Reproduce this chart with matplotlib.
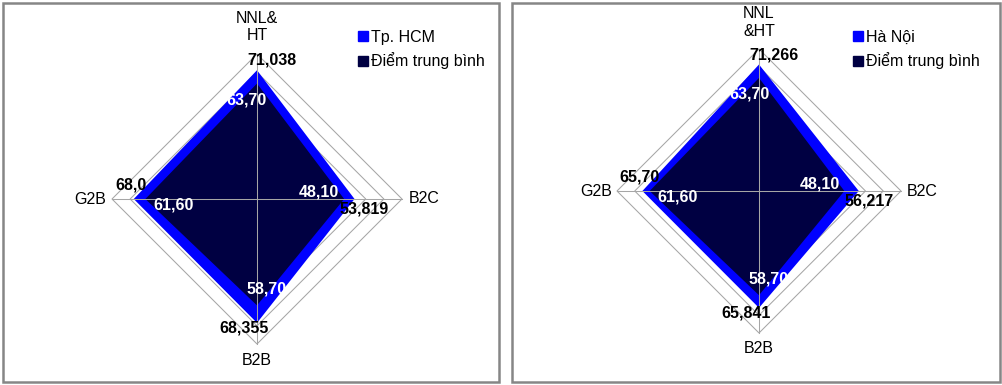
import numpy as np
import matplotlib
matplotlib.use("Agg")
import matplotlib.pyplot as plt
from matplotlib.lines import Line2D
from matplotlib.patches import Rectangle

# --- Datos ---
CATEGORIES_LEFT = ["NNL&\nHT", "B2C", "B2B", "G2B"]
CATEGORIES_RIGHT = ["NNL\n&HT", "B2C", "B2B", "G2B"]

HCM_VALUES = [71.038, 53.819, 68.355, 68.0]
HCM_LABELS = ["71,038", "53,819", "68,355", "68,0"]

HN_VALUES = [71.266, 56.217, 65.841, 65.70]
HN_LABELS = ["71,266", "56,217", "65,841", "65,70"]

AVG_VALUES = [63.70, 48.10, 58.70, 61.60]
AVG_LABELS = ["63,70", "48,10", "58,70", "61,60"]

GRID_VALUES = [10, 20, 30, 40, 50, 60, 70, 80]

# --- Estilo ---
W, H = 1003, 385
BLUE = "#0000FF"
NAVY = "#000042"
GRID = "#a6a6a6"
FONT = ["Liberation Sans", "DejaVu Sans"]
FS = 11.5

# offsets de etiquetas (px, y hacia abajo) por eje: NNL, B2C, B2B, G2B
CITY_OFFSETS = [(15, -10), (10, 10), (-13, 5), (-3, -14)]
AVG_OFFSETS = [(-10, 16), (-25, -7), (10, -16), (28, 6)]
CAT_RADIUS = [95, 92, 89, 92]

plt.rcParams["font.family"] = FONT


def polar_xy(values):
    t = np.arange(len(values)) * np.pi / 2
    v = np.asarray(values, dtype=float)
    return v * np.sin(t), v * np.cos(t)


def add_panel_border(fig, x0, x1, y0, y1):
    rect = Rectangle((x0 / W, 1 - y1 / H), (x1 - x0) / W, (y1 - y0) / H,
                     transform=fig.transFigure, fill=False,
                     edgecolor="#868686", linewidth=1.8)
    fig.patches.append(rect)


def radar(fig, cx, cy, radius, categories, city_vals, city_labels, city_name, legend_x):
    s = radius / 80.0
    L = 110
    half = L * s
    ax = fig.add_axes([(cx - half) / W, (H - cy - half) / H, 2 * half / W, 2 * half / H])
    ax.set_xlim(-L, L)
    ax.set_ylim(-L, L)
    ax.axis("off")

    # rejilla en forma de rombo
    for g in GRID_VALUES:
        gx, gy = polar_xy([g] * 4)
        ax.fill(gx, gy, facecolor="none", edgecolor=GRID, linewidth=0.75, zorder=1)

    bx, by = polar_xy(city_vals)
    ax.fill(bx, by, color=BLUE, zorder=2, linewidth=0)
    dx, dy = polar_xy(AVG_VALUES)
    ax.fill(dx, dy, color=NAVY, zorder=3, linewidth=0)

    # ejes radiales
    ox, oy = polar_xy([80] * 4)
    for i in range(4):
        ax.plot([0, ox[i]], [0, oy[i]], color=GRID, linewidth=0.75, zorder=4)

    # etiquetas de categorías
    cx_, cy_ = polar_xy(CAT_RADIUS)
    for i, cat in enumerate(categories):
        ax.text(cx_[i], cy_[i], cat, ha="center", va="center", fontsize=FS,
                linespacing=1.2, color="black")

    # etiquetas de datos
    for i in range(4):
        ox_, oy_ = CITY_OFFSETS[i]
        ax.annotate(city_labels[i], (bx[i], by[i]), xytext=(ox_ * 0.72, -oy_ * 0.72),
                    textcoords="offset points", ha="center", va="center",
                    fontsize=FS, fontweight="bold", color="black", zorder=6)
        ox_, oy_ = AVG_OFFSETS[i]
        ax.annotate(AVG_LABELS[i], (dx[i], dy[i]), xytext=(ox_ * 0.72, -oy_ * 0.72),
                    textcoords="offset points", ha="center", va="center",
                    fontsize=FS, fontweight="bold", color="white", zorder=6)

    handles = [
        Line2D([], [], marker="s", linestyle="none", color=BLUE, markersize=6.5),
        Line2D([], [], marker="s", linestyle="none", color=NAVY, markersize=6.5),
    ]
    fig.legend(handles, [city_name, "Điểm trung bình"], loc="upper left",
               bbox_to_anchor=(legend_x / W, 1 - 30 / H), frameon=False,
               fontsize=FS, borderpad=0, borderaxespad=0, handlelength=0.7,
               handletextpad=0.2, labelspacing=0.45)
    return ax


def main():
    fig = plt.figure(figsize=(W / 100, H / 100), dpi=100)
    fig.patch.set_facecolor("white")

    add_panel_border(fig, 3, 499, 3, 382)
    add_panel_border(fig, 512, 1000, 3, 382)

    radar(fig, 257, 199, 145, CATEGORIES_LEFT, HCM_VALUES, HCM_LABELS, "Tp. HCM", 357)
    radar(fig, 759, 191, 142, CATEGORIES_RIGHT, HN_VALUES, HN_LABELS, "Hà Nội", 852)

    fig.savefig("out.png", dpi=100)
    plt.close(fig)


if __name__ == "__main__":
    main()
